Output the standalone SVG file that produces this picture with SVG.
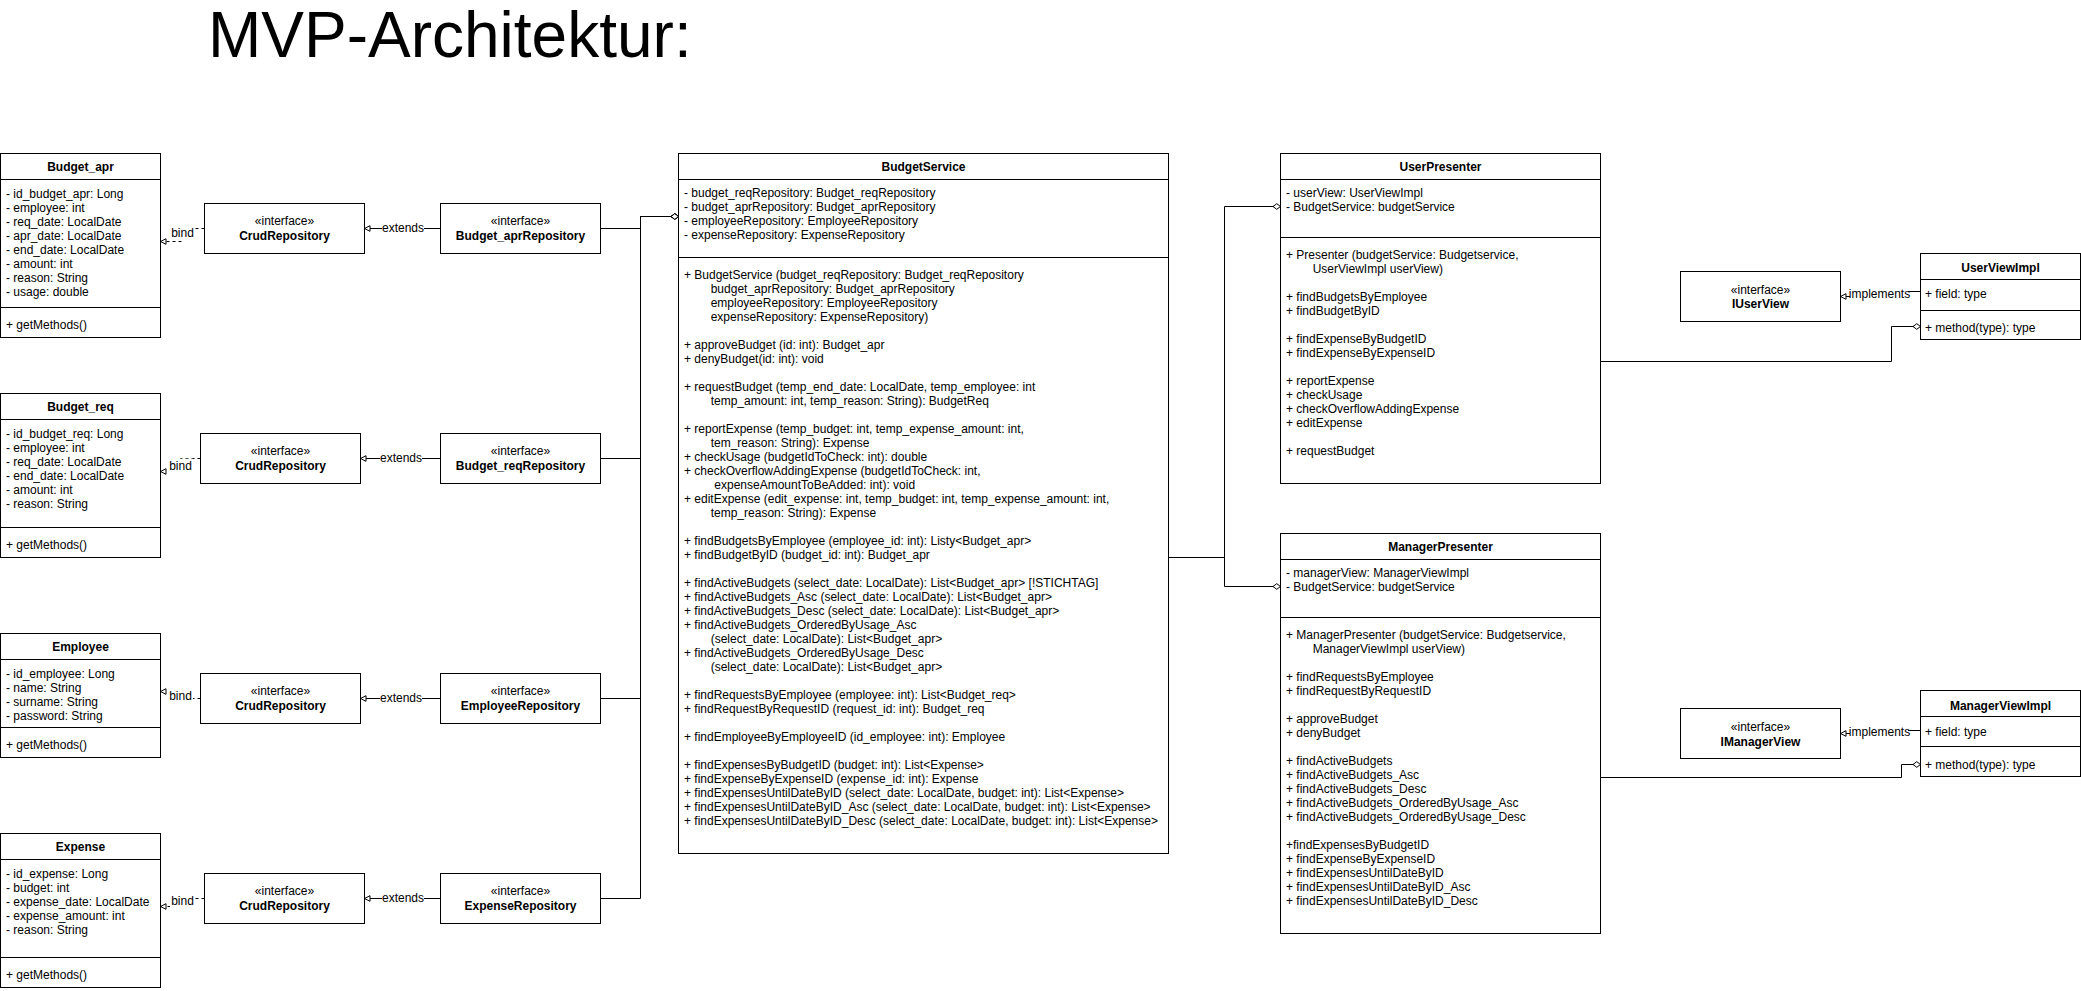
<svg xmlns="http://www.w3.org/2000/svg" width="2081" height="991" viewBox="0 0 2081 991">
<style>
.box{fill:#fff;stroke:#000;stroke-width:1}
.sep{stroke:#000;stroke-width:1;fill:none}
.t{font-family:"Liberation Sans",Arial,Helvetica,sans-serif;font-size:12px;fill:#000}
.b{font-weight:bold}
.c{text-anchor:middle}
.edge{fill:none;stroke:#000;stroke-width:1}
.dash{stroke-dasharray:3 3}
.bg{fill:#fff}
.title{font-family:"Liberation Sans",Arial,Helvetica,sans-serif;font-size:64px;fill:#000}
</style>
<defs>
<marker id="tri" viewBox="0 0 8 8" markerWidth="8" markerHeight="8" refX="7" refY="4" orient="auto" markerUnits="userSpaceOnUse"><path d="M1.5,1.2 L7,4 L1.5,6.8 Z" fill="#fff" stroke="#000" stroke-width="1"/></marker>
<marker id="dia" viewBox="0 0 10 8" markerWidth="10" markerHeight="8" refX="9" refY="4" orient="auto" markerUnits="userSpaceOnUse"><path d="M1.5,4 L5.25,1.2 L9,4 L5.25,6.8 Z" fill="#fff" stroke="#000" stroke-width="1"/></marker>
</defs>
<rect x="0" y="0" width="2081" height="991" fill="#fff"/>
<text class="title" x="208" y="56.5">MVP-Architektur:</text>

<g id="connectors">
  <!-- bind -->
  <path class="edge dash" d="M204.5,228.5 H183 V241.5 H160.5" marker-end="url(#tri)"/>
  <path class="edge dash" d="M200.5,458.5 H180.5 V471.5 H160.5" marker-end="url(#tri)"/>
  <path class="edge dash" d="M200.5,698.5 H180.5 V691.5 H160.5" marker-end="url(#tri)"/>
  <path class="edge dash" d="M204.5,898.5 H182.5 V906.5 H160.5" marker-end="url(#tri)"/>
  <rect class="bg" x="170" y="226" width="25" height="14"/>
  <text class="t c" x="182.5" y="237.3">bind</text>
  <rect class="bg" x="168" y="458.7" width="25" height="14"/>
  <text class="t c" x="180.5" y="470">bind</text>
  <rect class="bg" x="168" y="689" width="25" height="14"/>
  <text class="t c" x="180.5" y="700.3">bind</text>
  <rect class="bg" x="170" y="893.7" width="25" height="14"/>
  <text class="t c" x="182.5" y="905">bind</text>
  <!-- extends -->
  <path class="edge" d="M440.5,228.5 H364.5" marker-end="url(#tri)"/>
  <path class="edge" d="M440.5,458.5 H360.5" marker-end="url(#tri)"/>
  <path class="edge" d="M440.5,698.5 H360.5" marker-end="url(#tri)"/>
  <path class="edge" d="M440.5,898.5 H364.5" marker-end="url(#tri)"/>
  <rect class="bg" x="382" y="221" width="42" height="14"/>
  <text class="t c" x="403" y="232.3">extends</text>
  <rect class="bg" x="380" y="451" width="42" height="14"/>
  <text class="t c" x="401" y="462.3">extends</text>
  <rect class="bg" x="380" y="691" width="42" height="14"/>
  <text class="t c" x="401" y="702.3">extends</text>
  <rect class="bg" x="382" y="891" width="42" height="14"/>
  <text class="t c" x="403" y="902.3">extends</text>
  <!-- repositories to BudgetService -->
  <path class="edge" d="M600.5,228.5 H640.5 V216.5 H678.5" marker-end="url(#dia)"/>
  <path class="edge" d="M600.5,458.5 H640.5 V216.5 H678.5" marker-end="url(#dia)"/>
  <path class="edge" d="M600.5,698.5 H640.5 V216.5 H678.5" marker-end="url(#dia)"/>
  <path class="edge" d="M600.5,898.5 H640.5 V216.5 H678.5" marker-end="url(#dia)"/>
  <!-- BudgetService to presenters -->
  <path class="edge" d="M1168.5,557.5 H1224.5 V206.5 H1280.5" marker-end="url(#dia)"/>
  <path class="edge" d="M1168.5,557.5 H1224.5 V586.5 H1280.5" marker-end="url(#dia)"/>
  <!-- presenters to view impls -->
  <path class="edge" d="M1600.5,361.5 H1891.5 V326.5 H1920.5" marker-end="url(#dia)"/>
  <path class="edge" d="M1600.5,777.5 H1901.5 V764.5 H1920.5" marker-end="url(#dia)"/>
  <!-- implements -->
  <path class="edge" d="M1920.5,291.5 H1880 V296.5 H1840.5" marker-end="url(#tri)"/>
  <path class="edge" d="M1920.5,730.5 H1880 V733.5 H1840.5" marker-end="url(#tri)"/>
  <rect class="bg" x="1850" y="286.5" width="58" height="14"/>
  <text class="t c" x="1879.5" y="297.5">implements</text>
  <rect class="bg" x="1850" y="724.5" width="58" height="14"/>
  <text class="t c" x="1879.5" y="735.5">implements</text>
</g>

<g id="Budget_apr">
  <rect class="box" x="0.5" y="153.5" width="160" height="184"/>
  <path class="sep" d="M0.5,179.5 H160.5 M0.5,307.5 H160.5"/>
  <text class="t b c" x="80.5" y="171">Budget_apr</text>
  <text class="t" x="6"><tspan x="6" y="197.5">- id_budget_apr: Long</tspan><tspan x="6" y="211.5">- employee: int</tspan><tspan x="6" y="225.5">- req_date: LocalDate</tspan><tspan x="6" y="239.5">- apr_date: LocalDate</tspan><tspan x="6" y="253.5">- end_date: LocalDate</tspan><tspan x="6" y="267.5">- amount: int</tspan><tspan x="6" y="281.5">- reason: String</tspan><tspan x="6" y="295.5">- usage: double</tspan></text>
  <text class="t" x="6" y="329.3">+ getMethods()</text>
</g>
<g id="Budget_req">
  <rect class="box" x="0.5" y="393.5" width="160" height="164"/>
  <path class="sep" d="M0.5,419.5 H160.5 M0.5,527.5 H160.5"/>
  <text class="t b c" x="80.5" y="411">Budget_req</text>
  <text class="t" x="6"><tspan x="6" y="437.5">- id_budget_req: Long</tspan><tspan x="6" y="451.5">- employee: int</tspan><tspan x="6" y="465.5">- req_date: LocalDate</tspan><tspan x="6" y="479.5">- end_date: LocalDate</tspan><tspan x="6" y="493.5">- amount: int</tspan><tspan x="6" y="507.5">- reason: String</tspan></text>
  <text class="t" x="6" y="549.3">+ getMethods()</text>
</g>
<g id="Employee">
  <rect class="box" x="0.5" y="633.5" width="160" height="124"/>
  <path class="sep" d="M0.5,659.5 H160.5 M0.5,727.5 H160.5"/>
  <text class="t b c" x="80.5" y="651">Employee</text>
  <text class="t" x="6"><tspan x="6" y="677.5">- id_employee: Long</tspan><tspan x="6" y="691.5">- name: String</tspan><tspan x="6" y="705.5">- surname: String</tspan><tspan x="6" y="719.5">- password: String</tspan></text>
  <text class="t" x="6" y="749.3">+ getMethods()</text>
</g>
<g id="Expense">
  <rect class="box" x="0.5" y="833.5" width="160" height="154"/>
  <path class="sep" d="M0.5,859.5 H160.5 M0.5,957.5 H160.5"/>
  <text class="t b c" x="80.5" y="851">Expense</text>
  <text class="t" x="6"><tspan x="6" y="877.5">- id_expense: Long</tspan><tspan x="6" y="891.5">- budget: int</tspan><tspan x="6" y="905.5">- expense_date: LocalDate</tspan><tspan x="6" y="919.5">- expense_amount: int</tspan><tspan x="6" y="933.5">- reason: String</tspan></text>
  <text class="t" x="6" y="979.3">+ getMethods()</text>
</g>

<g id="CrudRepository1">
  <rect class="box" x="204.5" y="203.5" width="160" height="50"/>
  <text class="t c" x="284.5" y="225.3">«interface»</text>
  <text class="t b c" x="284.5" y="239.5">CrudRepository</text>
</g>
<g id="CrudRepository2">
  <rect class="box" x="200.5" y="433.5" width="160" height="50"/>
  <text class="t c" x="280.5" y="455.3">«interface»</text>
  <text class="t b c" x="280.5" y="469.5">CrudRepository</text>
</g>
<g id="CrudRepository3">
  <rect class="box" x="200.5" y="673.5" width="160" height="50"/>
  <text class="t c" x="280.5" y="695.3">«interface»</text>
  <text class="t b c" x="280.5" y="709.5">CrudRepository</text>
</g>
<g id="CrudRepository4">
  <rect class="box" x="204.5" y="873.5" width="160" height="50"/>
  <text class="t c" x="284.5" y="895.3">«interface»</text>
  <text class="t b c" x="284.5" y="909.5">CrudRepository</text>
</g>

<g id="Budget_aprRepository">
  <rect class="box" x="440.5" y="203.5" width="160" height="50"/>
  <text class="t c" x="520.5" y="225.3">«interface»</text>
  <text class="t b c" x="520.5" y="239.5">Budget_aprRepository</text>
</g>
<g id="Budget_reqRepository">
  <rect class="box" x="440.5" y="433.5" width="160" height="50"/>
  <text class="t c" x="520.5" y="455.3">«interface»</text>
  <text class="t b c" x="520.5" y="469.5">Budget_reqRepository</text>
</g>
<g id="EmployeeRepository">
  <rect class="box" x="440.5" y="673.5" width="160" height="50"/>
  <text class="t c" x="520.5" y="695.3">«interface»</text>
  <text class="t b c" x="520.5" y="709.5">EmployeeRepository</text>
</g>
<g id="ExpenseRepository">
  <rect class="box" x="440.5" y="873.5" width="160" height="50"/>
  <text class="t c" x="520.5" y="895.3">«interface»</text>
  <text class="t b c" x="520.5" y="909.5">ExpenseRepository</text>
</g>

<g id="BudgetService">
  <rect class="box" x="678.5" y="153.5" width="490" height="700"/>
  <path class="sep" d="M678.5,179.5 H1168.5 M678.5,257.5 H1168.5"/>
  <text class="t b c" x="923.5" y="171">BudgetService</text>
  <text class="t"><tspan x="684" y="197">- budget_reqRepository: Budget_reqRepository</tspan><tspan x="684" y="211">- budget_aprRepository: Budget_aprRepository</tspan><tspan x="684" y="225">- employeeRepository: EmployeeRepository</tspan><tspan x="684" y="239">- expenseRepository: ExpenseRepository</tspan></text>
  <text class="t">
    <tspan x="684" y="278.5">+ BudgetService (budget_reqRepository: Budget_reqRepository</tspan>
    <tspan x="710.7" y="292.5">budget_aprRepository: Budget_aprRepository</tspan>
    <tspan x="710.7" y="306.5">employeeRepository: EmployeeRepository</tspan>
    <tspan x="710.7" y="320.5">expenseRepository: ExpenseRepository)</tspan>
    <tspan x="684" y="348.5">+ approveBudget (id: int): Budget_apr</tspan>
    <tspan x="684" y="362.5">+ denyBudget(id: int): void</tspan>
    <tspan x="684" y="390.5">+ requestBudget (temp_end_date: LocalDate, temp_employee: int</tspan>
    <tspan x="710.7" y="404.5">temp_amount: int, temp_reason: String): BudgetReq</tspan>
    <tspan x="684" y="432.5">+ reportExpense (temp_budget: int, temp_expense_amount: int,</tspan>
    <tspan x="710.7" y="446.5">tem_reason: String): Expense</tspan>
    <tspan x="684" y="460.5">+ checkUsage (budgetIdToCheck: int): double</tspan>
    <tspan x="684" y="474.5">+ checkOverflowAddingExpense (budgetIdToCheck: int,</tspan>
    <tspan x="714.3" y="488.5">expenseAmountToBeAdded: int): void</tspan>
    <tspan x="684" y="502.5">+ editExpense (edit_expense: int, temp_budget: int, temp_expense_amount: int,</tspan>
    <tspan x="710.7" y="516.5">temp_reason: String): Expense</tspan>
    <tspan x="684" y="544.5">+ findBudgetsByEmployee (employee_id: int): Listy&lt;Budget_apr&gt;</tspan>
    <tspan x="684" y="558.5">+ findBudgetByID (budget_id: int): Budget_apr</tspan>
    <tspan x="684" y="586.5">+ findActiveBudgets (select_date: LocalDate): List&lt;Budget_apr&gt; [!STICHTAG]</tspan>
    <tspan x="684" y="600.5">+ findActiveBudgets_Asc (select_date: LocalDate): List&lt;Budget_apr&gt;</tspan>
    <tspan x="684" y="614.5">+ findActiveBudgets_Desc (select_date: LocalDate): List&lt;Budget_apr&gt;</tspan>
    <tspan x="684" y="628.5">+ findActiveBudgets_OrderedByUsage_Asc</tspan>
    <tspan x="710.7" y="642.5">(select_date: LocalDate): List&lt;Budget_apr&gt;</tspan>
    <tspan x="684" y="656.5">+ findActiveBudgets_OrderedByUsage_Desc</tspan>
    <tspan x="710.7" y="670.5">(select_date: LocalDate): List&lt;Budget_apr&gt;</tspan>
    <tspan x="684" y="698.5">+ findRequestsByEmployee (employee: int): List&lt;Budget_req&gt;</tspan>
    <tspan x="684" y="712.5">+ findRequestByRequestID (request_id: int): Budget_req</tspan>
    <tspan x="684" y="740.5">+ findEmployeeByEmployeeID (id_employee: int): Employee</tspan>
    <tspan x="684" y="768.5">+ findExpensesByBudgetID (budget: int): List&lt;Expense&gt;</tspan>
    <tspan x="684" y="782.5">+ findExpenseByExpenseID (expense_id: int): Expense</tspan>
    <tspan x="684" y="796.5">+ findExpensesUntilDateByID (select_date: LocalDate, budget: int): List&lt;Expense&gt;</tspan>
    <tspan x="684" y="810.5">+ findExpensesUntilDateByID_Asc (select_date: LocalDate, budget: int): List&lt;Expense&gt;</tspan>
    <tspan x="684" y="824.5">+ findExpensesUntilDateByID_Desc (select_date: LocalDate, budget: int): List&lt;Expense&gt;</tspan>
  </text>
</g>

<g id="UserPresenter">
  <rect class="box" x="1280.5" y="153.5" width="320" height="330"/>
  <path class="sep" d="M1280.5,179.5 H1600.5 M1280.5,237.5 H1600.5"/>
  <text class="t b c" x="1440.5" y="171">UserPresenter</text>
  <text class="t"><tspan x="1286" y="197">- userView: UserViewImpl</tspan><tspan x="1286" y="211">- BudgetService: budgetService</tspan></text>
  <text class="t">
    <tspan x="1286" y="258.5">+ Presenter (budgetService: Budgetservice,</tspan>
    <tspan x="1312.7" y="272.5">UserViewImpl userView)</tspan>
    <tspan x="1286" y="300.5">+ findBudgetsByEmployee</tspan>
    <tspan x="1286" y="314.5">+ findBudgetByID</tspan>
    <tspan x="1286" y="342.5">+ findExpenseByBudgetID</tspan>
    <tspan x="1286" y="356.5">+ findExpenseByExpenseID</tspan>
    <tspan x="1286" y="384.5">+ reportExpense</tspan>
    <tspan x="1286" y="398.5">+ checkUsage</tspan>
    <tspan x="1286" y="412.5">+ checkOverflowAddingExpense</tspan>
    <tspan x="1286" y="426.5">+ editExpense</tspan>
    <tspan x="1286" y="454.5">+ requestBudget</tspan>
  </text>
</g>

<g id="ManagerPresenter">
  <rect class="box" x="1280.5" y="533.5" width="320" height="400"/>
  <path class="sep" d="M1280.5,559.5 H1600.5 M1280.5,617.5 H1600.5"/>
  <text class="t b c" x="1440.5" y="551">ManagerPresenter</text>
  <text class="t"><tspan x="1286" y="577">- managerView: ManagerViewImpl</tspan><tspan x="1286" y="591">- BudgetService: budgetService</tspan></text>
  <text class="t">
    <tspan x="1286" y="638.5">+ ManagerPresenter (budgetService: Budgetservice,</tspan>
    <tspan x="1312.7" y="652.5">ManagerViewImpl userView)</tspan>
    <tspan x="1286" y="680.5">+ findRequestsByEmployee</tspan>
    <tspan x="1286" y="694.5">+ findRequestByRequestID</tspan>
    <tspan x="1286" y="722.5">+ approveBudget</tspan>
    <tspan x="1286" y="736.5">+ denyBudget</tspan>
    <tspan x="1286" y="764.5">+ findActiveBudgets</tspan>
    <tspan x="1286" y="778.5">+ findActiveBudgets_Asc</tspan>
    <tspan x="1286" y="792.5">+ findActiveBudgets_Desc</tspan>
    <tspan x="1286" y="806.5">+ findActiveBudgets_OrderedByUsage_Asc</tspan>
    <tspan x="1286" y="820.5">+ findActiveBudgets_OrderedByUsage_Desc</tspan>
    <tspan x="1286" y="848.5">+findExpensesByBudgetID</tspan>
    <tspan x="1286" y="862.5">+ findExpenseByExpenseID</tspan>
    <tspan x="1286" y="876.5">+ findExpensesUntilDateByID</tspan>
    <tspan x="1286" y="890.5">+ findExpensesUntilDateByID_Asc</tspan>
    <tspan x="1286" y="904.5">+ findExpensesUntilDateByID_Desc</tspan>
  </text>
</g>

<g id="IUserView">
  <rect class="box" x="1680.5" y="271.5" width="160" height="50"/>
  <text class="t c" x="1760.5" y="294.3">«interface»</text>
  <text class="t b c" x="1760.5" y="307.8">IUserView</text>
</g>
<g id="UserViewImpl">
  <rect class="box" x="1920.5" y="253.5" width="160" height="86"/>
  <path class="sep" d="M1920.5,279.5 H2080.5 M1920.5,310.5 H2080.5"/>
  <text class="t b c" x="2000.5" y="272">UserViewImpl</text>
  <text class="t" x="1925" y="297.5">+ field: type</text>
  <text class="t" x="1925" y="332">+ method(type): type</text>
</g>
<g id="IManagerView">
  <rect class="box" x="1680.5" y="708.5" width="160" height="50"/>
  <text class="t c" x="1760.5" y="731">«interface»</text>
  <text class="t b c" x="1760.5" y="746">IManagerView</text>
</g>
<g id="ManagerViewImpl">
  <rect class="box" x="1920.5" y="690.5" width="160" height="86"/>
  <path class="sep" d="M1920.5,716.5 H2080.5 M1920.5,746.5 H2080.5"/>
  <text class="t b c" x="2000.5" y="710.3">ManagerViewImpl</text>
  <text class="t" x="1925" y="736">+ field: type</text>
  <text class="t" x="1925" y="769.3">+ method(type): type</text>
</g>
</svg>
